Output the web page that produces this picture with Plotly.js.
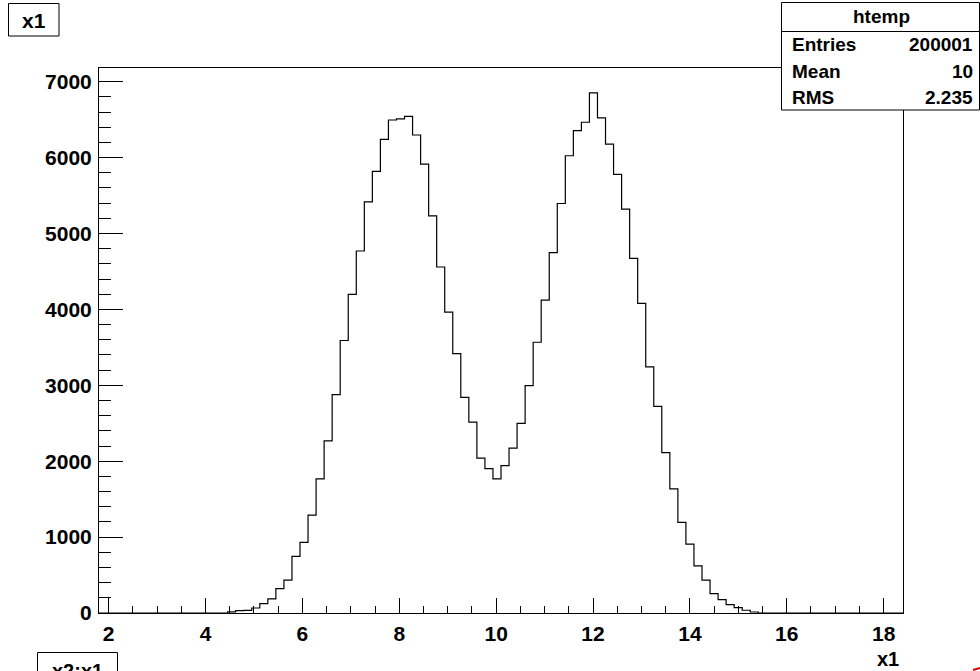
<!DOCTYPE html>
<html>
<head>
<meta charset="utf-8">
<script src="https://cdn.plot.ly/plotly-3.0.1.min.js"></script>
<style>
  html, body { margin: 0; padding: 0; background: #ffffff; }
  #chart { width: 980px; height: 671px; }
</style>
</head>
<body>
<div id="chart"></div>
<script>
// ---- histogram binning (htemp: 100 bins) ----
const xMin = 1.8;
const binWidth = 0.166;
const nBins = 100;
const firstFilledBin = 16;
// bin contents for bins 16..81 (all other bins are empty)
const counts = [
  15, 30, 35, 66, 124, 185, 322, 432, 745, 930,
  1290, 1766, 2268, 2876, 3590, 4197, 4769, 5416, 5818, 6240,
  6495, 6510, 6544, 6297, 5914, 5231, 4558, 3963, 3418, 2840,
  2515, 2040, 1903, 1766, 1942, 2172, 2497, 2995, 3567, 4122,
  4747, 5395, 6024, 6354, 6465, 6852, 6522, 6178, 5778, 5320,
  4672, 4078, 3242, 2721, 2114, 1634, 1194, 907, 621, 432,
  256, 177, 111, 71, 36, 13
];

// ---- texts ----
const histTitle = "x1";
const xAxisTitle = "x1";
const statsName = "htemp";
const statLabels = ["Entries", "Mean", "RMS"];
const statValues = ["200001", "10", "2.235"];
const nextPadTitle = "x2:x1";

// ---- build step outline ----
const xs = [], ys = [];
for (let i = 0; i < nBins; i++) {
  const j = i - firstFilledBin;
  const v = (j >= 0 && j < counts.length) ? counts[j] : 0;
  xs.push(xMin + i * binWidth);
  ys.push(v);
}
xs.push(xMin + nBins * binWidth);
ys.push(ys[ys.length - 1]);

// layout geometry (pixels)
const W = 980, H = 671;
const M = {l: 99, r: 77, t: 68, b: 58};
const pw = W - M.l - M.r, ph = H - M.t - M.b;
const px = x => (x - M.l) / pw;
const py = y => (H - M.b - y) / ph;

const FONT = "Liberation Sans, Arial, Helvetica, sans-serif";
const fnt = (s) => ({family: FONT, size: s, color: "#000", weight: "bold"});

const shapes = [
  // title box
  {type: "rect", xref: "paper", yref: "paper", x0: px(8.5), x1: px(59), y0: py(36), y1: py(3.5),
   line: {color: "#000", width: 1}, fillcolor: "#fff", layer: "above"},
  // stats box
  {type: "rect", xref: "paper", yref: "paper", x0: px(781.5), x1: px(979.5), y0: py(110), y1: py(2.5),
   line: {color: "#000", width: 1}, fillcolor: "#fff", layer: "above"},
  {type: "line", xref: "paper", yref: "paper", x0: px(781.5), x1: px(979.5), y0: py(31.5), y1: py(31.5),
   line: {color: "#000", width: 1}, layer: "above"},
  // lower pad title box (cut off)
  {type: "rect", xref: "paper", yref: "paper", x0: px(37.5), x1: px(117.5), y0: py(690), y1: py(652.5),
   line: {color: "#000", width: 1}, fillcolor: "#fff", layer: "above"},
  // small red fragment at corner
  {type: "line", xref: "paper", yref: "paper", x0: px(973), x1: px(980), y0: py(670), y1: py(668),
   line: {color: "#e00000", width: 2}, layer: "above"}
];

const annotations = [
  {xref: "paper", yref: "paper", x: px(34), y: py(20), text: histTitle, showarrow: false,
   xanchor: "center", yanchor: "middle", font: fnt(21)},
  {xref: "paper", yref: "paper", x: px(881), y: py(17), text: statsName, showarrow: false,
   xanchor: "center", yanchor: "middle", font: fnt(19)},
  {xref: "paper", yref: "paper", x: px(901), y: py(659), text: xAxisTitle, showarrow: false,
   xanchor: "right", yanchor: "middle", font: fnt(20)},
  {xref: "paper", yref: "paper", x: px(77.5), y: py(671), text: nextPadTitle, showarrow: false,
   xanchor: "center", yanchor: "middle", font: fnt(20)}
];
const rowY = [45, 71.5, 97.5];
statLabels.forEach((t, i) => {
  annotations.push({xref: "paper", yref: "paper", x: px(790), y: py(rowY[i]), text: t, showarrow: false,
    xanchor: "left", yanchor: "middle", font: fnt(19)});
  annotations.push({xref: "paper", yref: "paper", x: px(975), y: py(rowY[i]), text: statValues[i], showarrow: false,
    xanchor: "right", yanchor: "middle", font: fnt(19)});
});

const trace = {
  type: "scatter", mode: "lines", x: xs, y: ys,
  line: {shape: "hv", color: "#000", width: 1.2},
  hoverinfo: "skip", showlegend: false
};

const layout = {
  width: W, height: H,
  margin: M,
  paper_bgcolor: "#fff", plot_bgcolor: "#fff",
  showlegend: false,
  xaxis: {
    range: [xMin, xMin + nBins * binWidth],
    dtick: 2, tick0: 0,
    ticks: "inside", ticklen: 15, tickwidth: 1, tickcolor: "#000",
    minor: {dtick: 0.5, tick0: 0, ticks: "inside", ticklen: 7, tickwidth: 1, tickcolor: "#000"},
    showgrid: false, zeroline: false,
    showline: true, linecolor: "#000", linewidth: 1, mirror: true,
    tickfont: fnt(21), ticklabelstandoff: 2
  },
  yaxis: {
    range: [0, 7180],
    dtick: 1000, tick0: 0,
    ticks: "inside", ticklen: 24, tickwidth: 1, tickcolor: "#000",
    minor: {dtick: 200, tick0: 0, ticks: "inside", ticklen: 12, tickwidth: 1, tickcolor: "#000"},
    showgrid: false, zeroline: false,
    showline: true, linecolor: "#000", linewidth: 1, mirror: true,
    tickfont: fnt(21), ticklabelstandoff: 2
  },
  shapes: shapes,
  annotations: annotations
};

Plotly.newPlot("chart", [trace], layout, {staticPlot: true, displayModeBar: false});
</script>
</body>
</html>
